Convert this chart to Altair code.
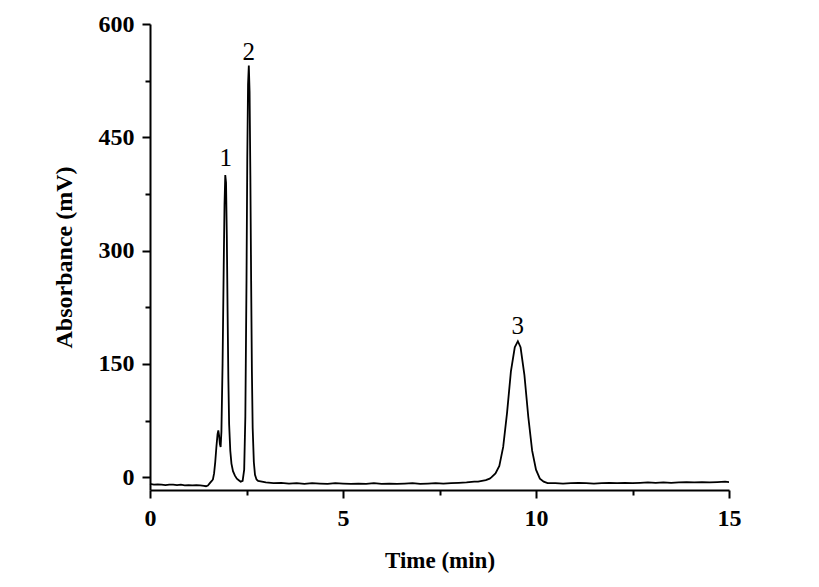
import altair as alt
import pandas as pd

time_min = [0.0, 0.1, 0.2, 0.3, 0.4, 0.5, 0.6, 0.7, 0.8, 0.9, 1.0, 1.1, 1.2, 1.3, 1.4, 1.45, 1.5,
            1.55, 1.6, 1.63, 1.66, 1.69, 1.72, 1.75, 1.77, 1.79, 1.81, 1.83, 1.85, 1.88, 1.91, 1.93,
            1.95, 1.97, 1.99, 2.01, 2.03, 2.05, 2.08, 2.11, 2.15, 2.2, 2.25, 2.3, 2.35, 2.4, 2.44,
            2.47, 2.5, 2.52, 2.54, 2.56, 2.58, 2.6, 2.62, 2.64, 2.66, 2.69, 2.72, 2.76, 2.8, 2.9,
            3.0, 3.2, 3.4, 3.6, 3.8, 4.0, 4.2, 4.4, 4.6, 4.8, 5.0, 5.2, 5.4, 5.6, 5.8, 6.0, 6.2,
            6.4, 6.6, 6.8, 7.0, 7.2, 7.4, 7.6, 7.8, 8.0, 8.2, 8.4, 8.5, 8.6, 8.7, 8.8, 8.85, 8.95,
            9.05, 9.15, 9.25, 9.35, 9.45, 9.53, 9.6, 9.7, 9.8, 9.9, 10.0, 10.1, 10.2, 10.3, 10.5,
            10.7, 10.9, 11.1, 11.3, 11.5, 11.7, 11.9, 12.1, 12.3, 12.5, 12.7, 12.9, 13.1, 13.3,
            13.5, 13.7, 13.9, 14.1, 14.3, 14.5, 14.7, 14.9, 15.0]
absorbance = [-9, -10, -9.5, -10, -10.5, -10, -9.8, -10.5, -10, -10.8, -10.5, -11, -10.5, -11, -11.5, -12, -11,
              -8, -5, -3, 5, 20, 40, 57, 62, 55, 44, 40, 60, 150, 280, 360,
              400, 390, 320, 220, 130, 70, 35, 18, 8, 2, -2, -4, -6, -5, 10,
              80, 260, 420, 520, 545, 510, 400, 260, 140, 65, 20, 3, -3, -5, -6,
              -7, -8, -7.5, -8.5, -8, -9, -8, -8.5, -9, -8, -8.5, -9, -8.5, -9, -8, -9, -8.5,
              -9, -8.5, -8, -9, -8.5, -8, -8.5, -8, -7.5, -7, -6, -6, -5, -4, -2, 0, 5,
              15, 40, 85, 140, 172, 180, 172, 135, 80, 35, 10, -2, -6, -8, -8,
              -8.5, -8, -7.5, -8, -8.5, -8, -7.5, -8, -7.5, -8, -7.5, -7, -7.5, -7,
              -7.5, -7, -6.5, -7, -6.5, -7, -6.5, -6, -6.5]

peak_labels = ["1", "2", "3"]
peak_x = [1.96, 2.56, 9.53]
peak_y = [412, 552, 190]

df = pd.DataFrame({"t": time_min, "a": absorbance})
lab = pd.DataFrame({"label": peak_labels, "x": peak_x, "y": peak_y})

FONT = "Liberation Serif"

x_scale = alt.Scale(domain=[0, 15], nice=False, zero=False)
y_scale = alt.Scale(domain=[-17, 600], nice=False, zero=False)

x_axis = alt.Axis(
    title="Time (min)", values=[0, 2.5, 5, 7.5, 10, 12.5, 15],
    labelExpr="datum.value % 5 === 0 ? datum.label : ''",
    tickSize={"condition": {"test": "datum.value % 5 === 0", "value": 8}, "value": 5},
    grid=False, domainColor="black", domainWidth=2, tickColor="black", tickWidth=2,
    labelFont=FONT, labelFontSize=24, labelFontWeight="bold", labelColor="black",
    labelPadding=8, labelFlush=False, titleFont=FONT, titleFontSize=23, titleFontWeight="bold",
    titleColor="black", titlePadding=19,
)
y_axis = alt.Axis(
    title="Absorbance (mV)", values=[0, 75, 150, 225, 300, 375, 450, 525, 600],
    labelExpr="datum.value % 150 === 0 ? datum.label : ''",
    tickSize={"condition": {"test": "datum.value % 150 === 0", "value": 8}, "value": 5},
    grid=False, domainColor="black", domainWidth=2, tickColor="black", tickWidth=2,
    labelFont=FONT, labelFontSize=24, labelFontWeight="bold", labelColor="black",
    labelPadding=8, labelFlush=False, titleFont=FONT, titleFontSize=24, titleFontWeight="bold",
    titleColor="black", titlePadding=22,
)

line = alt.Chart(df).mark_line(color="black", strokeWidth=1.8).encode(
    x=alt.X("t:Q", scale=x_scale, axis=x_axis),
    y=alt.Y("a:Q", scale=y_scale, axis=y_axis),
)
text = alt.Chart(lab).mark_text(font=FONT, fontSize=25, color="black", baseline="alphabetic").encode(
    x=alt.X("x:Q", scale=x_scale),
    y=alt.Y("y:Q", scale=y_scale),
    text="label:N",
)

chart = (line + text).properties(
    width=579, height=466,
    autosize=alt.AutoSizeParams(type="none"),
    padding={"left": 142, "top": 16, "right": 80, "bottom": 90},
).configure(background="white").configure_view(stroke=None)

chart.save("out.html", embed_options={"renderer": "svg", "actions": False})
